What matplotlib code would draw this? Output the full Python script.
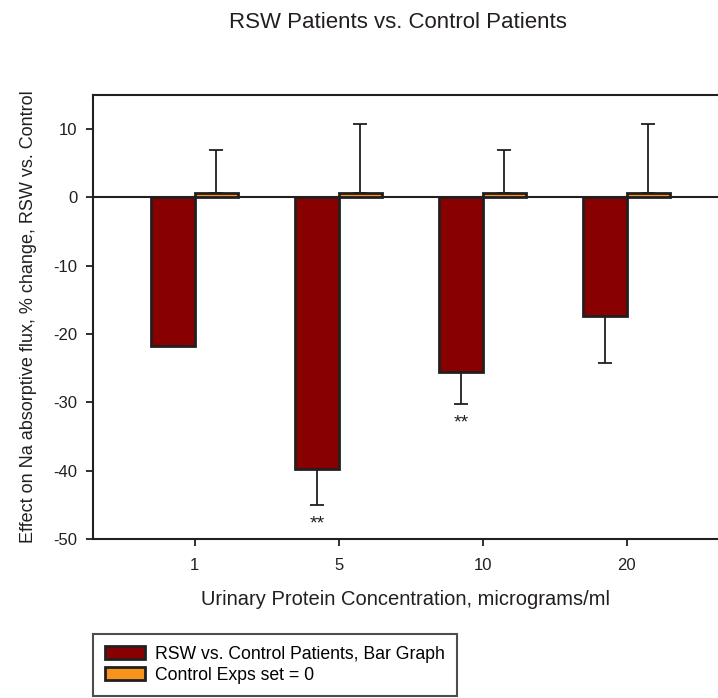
import matplotlib
matplotlib.use('Agg')
import matplotlib.pyplot as plt
import numpy as np

plt.rcParams['font.family'] = ['Liberation Sans', 'DejaVu Sans']
plt.rcParams['axes.unicode_minus'] = False

categories = ['1', '5', '10', '20']
rsw = [-21.7, -39.8, -25.6, -17.3]
rsw_err = [0.0, 5.2, 4.6, 7.0]
ctrl = [0.6, 0.6, 0.6, 0.6]
ctrl_err = [6.4, 10.1, 6.4, 10.1]
stars = ['', '**', '**', '']

DARK_RED = '#880000'
ORANGE = '#F7941D'
EDGE = '#231F20'


def main():
    fig = plt.figure(figsize=(7.18, 6.98), dpi=100)
    ax = fig.add_axes([93 / 718, 1 - 539 / 698, 1 - 93 / 718, (539 - 95) / 698])

    x = np.arange(len(categories))
    w = 0.302
    ax.axhline(0, color=EDGE, lw=1.5, zorder=1)
    ax.bar(x - w / 2, rsw, w, color=DARK_RED, edgecolor=EDGE, linewidth=2,
           yerr=[rsw_err, [0] * len(rsw)],
           error_kw=dict(ecolor=EDGE, elinewidth=1.3, capsize=4.8, capthick=1.3),
           label='RSW vs. Control Patients, Bar Graph', zorder=3)
    ax.bar(x + w / 2, ctrl, w, color=ORANGE, edgecolor=EDGE, linewidth=2,
           yerr=[[0] * len(ctrl), ctrl_err],
           error_kw=dict(ecolor=EDGE, elinewidth=1.3, capsize=4.8, capthick=1.3),
           label='Control Exps set = 0', zorder=3)

    # significance marks under the error bars
    for xi, v, e, s in zip(x, rsw, rsw_err, stars):
        if s:
            ax.annotate(s, (xi - w / 2, v - e), xytext=(0, -8),
                        textcoords='offset points', ha='center', va='top',
                        fontsize=14, color=EDGE)

    ax.set_xlim(-0.706, 3.634)
    ax.set_ylim(-50, 15)
    ax.set_xticks(x)
    ax.set_xticklabels(categories)
    ax.set_yticks(np.arange(-50, 11, 10))
    ax.tick_params(axis='both', labelsize=12, colors=EDGE, width=1.3,
                   length=5, direction='out')
    ax.tick_params(axis='y', pad=6)
    ax.tick_params(axis='x', pad=9)
    for side in ['left', 'top', 'bottom']:
        ax.spines[side].set_color(EDGE)
        ax.spines[side].set_linewidth(1.5)
    ax.spines['right'].set_visible(False)

    ax.set_xlabel('Urinary Protein Concentration, micrograms/ml',
                  fontsize=14.5, labelpad=12, color=EDGE)
    ax.set_ylabel('Effect on Na absorptive flux, % change, RSW vs. Control',
                  fontsize=13, labelpad=12, color=EDGE)
    fig.text(398 / 718, 1 - 28 / 698, 'RSW Patients vs. Control Patients',
             ha='center', va='baseline', fontsize=16, color=EDGE)

    leg = fig.legend(loc='upper left', bbox_to_anchor=(93 / 718, 1 - 634 / 698),
                     fontsize=12.7, frameon=True, fancybox=False,
                     handlelength=2.27, handleheight=0.74, handletextpad=0.57,
                     labelspacing=0.2, borderpad=0.68, borderaxespad=0)
    leg.get_frame().set_edgecolor(EDGE)
    leg.get_frame().set_linewidth(1.5)

    fig.savefig('out.png', dpi=100)


if __name__ == '__main__':
    main()
